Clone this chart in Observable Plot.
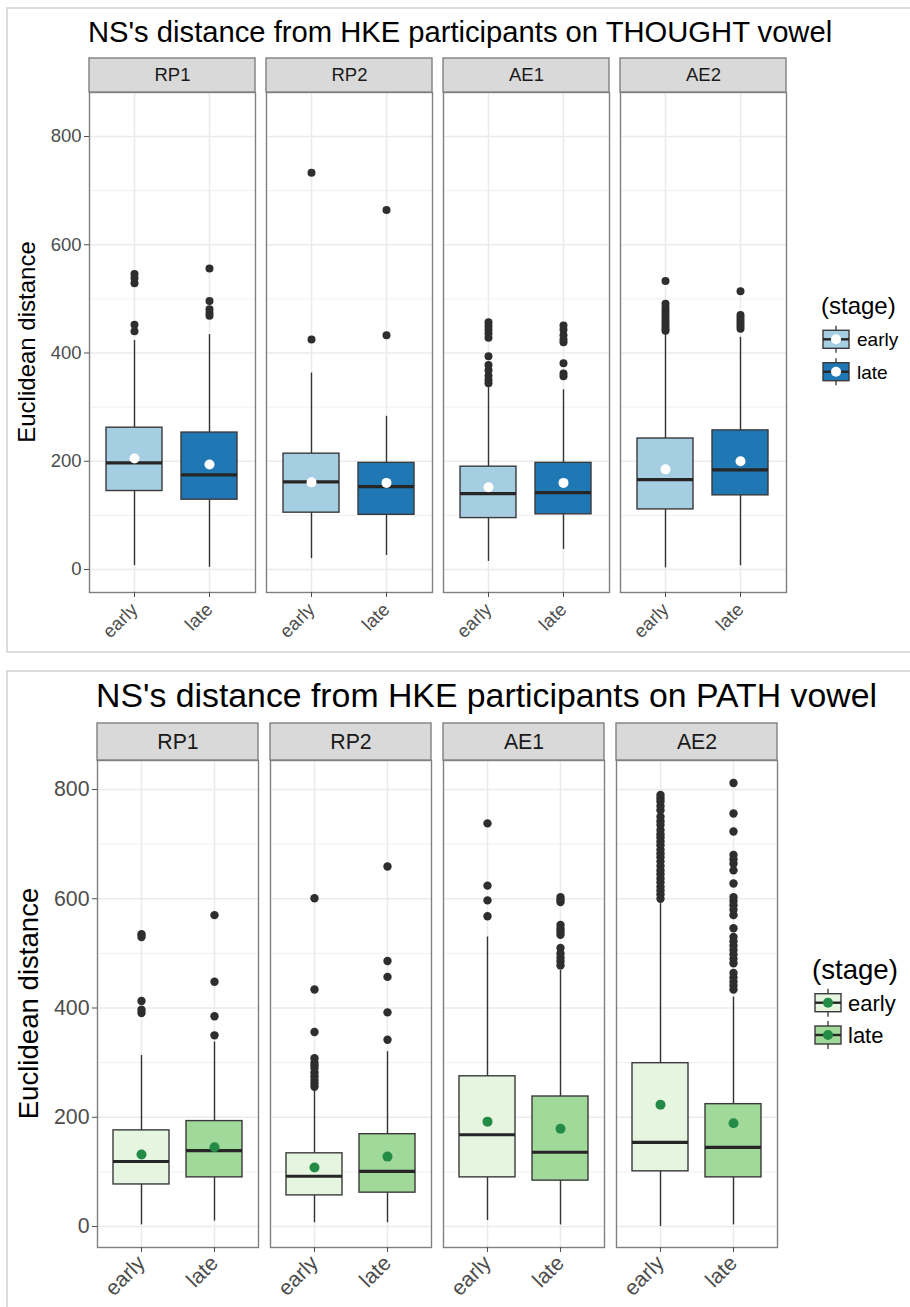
<!DOCTYPE html>
<html><head><meta charset="utf-8">
<script src="https://cdn.jsdelivr.net/npm/d3@7"></script>
<script src="https://cdn.jsdelivr.net/npm/@observablehq/plot@0.6"></script>
<style>
body{margin:0;background:#fff}
#root{position:relative;width:910px;height:1307px;overflow:hidden;background:#fff;font-family:"Liberation Sans",Arial,Helvetica,sans-serif}
#root > svg{position:absolute}
</style></head><body><div id="root"></div>
<script>
const speakers = ["RP1", "RP2", "AE1", "AE2"];
const stages = ["early", "late"];
const majorTicks = [0, 200, 400, 600, 800];
const minorTicks = [100, 300, 500, 700];
// order of groups: RP1 early, RP1 late, RP2 early, RP2 late, AE1 early, AE1 late, AE2 early, AE2 late
const thoughtLow    = [7, 4, 20, 26, 15, 37, 3, 7];
const thoughtQ1     = [145, 129, 105, 101, 95, 102, 111, 137];
const thoughtMedian = [197, 175, 162, 153, 140, 142, 166, 184];
const thoughtQ3     = [262, 253, 214, 197, 190, 197, 242, 257];
const thoughtHigh   = [423, 434, 363, 283, 336, 332, 436, 429];
const thoughtMean   = [205, 194, 161, 160, 152, 160, 185, 200];
const thoughtOutliers = [
  [440, 452, 529, 538, 546],
  [469, 474, 481, 496, 556],
  [425, 733],
  [433, 664],
  [344, 350, 358, 368, 378, 394, 428, 436, 443, 450, 457],
  [357, 362, 381, 420, 425, 433, 443, 451],
  [441, 445, 450, 455, 460, 466, 472, 478, 484, 491, 533],
  [445, 450, 455, 460, 465, 470, 514]
];
const pathLow    = [3, 10, 7, 7, 11, 3, 0, 3];
const pathQ1     = [77, 90, 57, 62, 90, 84, 101, 90];
const pathMedian = [119, 139, 92, 101, 168, 136, 154, 145];
const pathQ3     = [176, 193, 134, 169, 275, 238, 299, 224];
const pathHigh   = [313, 338, 250, 320, 530, 469, 591, 420];
const pathMean   = [132, 145, 108, 128, 192, 179, 223, 189];
const pathOutliers = [
  [391, 397, 413, 530, 535],
  [350, 385, 448, 570],
  [256, 262, 268, 275, 282, 290, 295, 300, 308, 356, 434, 601],
  [342, 392, 457, 486, 659],
  [568, 597, 624, 738],
  [478, 485, 492, 500, 510, 534, 540, 545, 552, 594, 598, 603],
  [600, 608, 615, 622, 630, 637, 645, 652, 660, 668, 676, 683, 690, 698, 705, 712, 718, 726, 735, 742, 750, 762, 770, 778, 784, 790],
  [434, 441, 448, 456, 464, 482, 490, 498, 506, 514, 522, 530, 546, 570, 580, 588, 596, 603, 628, 652, 664, 672, 680, 723, 756, 812]
];
const titles = ["NS's distance from HKE participants on THOUGHT vowel", "NS's distance from HKE participants on PATH vowel"];
const yTitle = "Euclidean distance";
const legendTitle = "(stage)";
const thoughtFills = ["#a6cee3", "#1f78b4"];
const pathFills = ["#e5f5e0", "#a1d99b"];

const FONT = '"Liberation Sans", Arial, Helvetica, sans-serif';

function chart(cfg) {
  const rows = [], outs = [];
  speakers.forEach((sp, i) => stages.forEach((st, j) => {
    const k = i * 2 + j;
    rows.push({speaker: sp, stage: st, low: cfg.low[k], q1: cfg.q1[k], median: cfg.median[k], q3: cfg.q3[k], high: cfg.high[k], mean: cfg.mean[k]});
    cfg.outliers[k].forEach(v => outs.push({speaker: sp, stage: st, value: v}));
  }));
  const fs = cfg.fontSize;
  const svg = Plot.plot({
    width: cfg.width, height: cfg.height,
    marginLeft: cfg.ml, marginRight: cfg.mr, marginTop: cfg.mt, marginBottom: cfg.mb,
    style: {background: "transparent", fontFamily: FONT, overflow: "visible"},
    fx: {domain: speakers, paddingInner: cfg.fxPad, paddingOuter: 0, axis: null, label: null},
    x: {domain: stages, paddingInner: cfg.xPadIn, paddingOuter: cfg.xPadOut, axis: null, label: null},
    y: {domain: cfg.yDomain, axis: null, label: null},
    color: {domain: stages, range: cfg.fills},
    marks: [
      Plot.gridY(minorTicks, {stroke: "#ececec", strokeOpacity: 1, strokeWidth: 0.8}),
      Plot.gridY(majorTicks, {stroke: "#ebebeb", strokeOpacity: 1, strokeWidth: 1.5}),
      Plot.gridX(stages, {stroke: "#ebebeb", strokeOpacity: 1, strokeWidth: 1.5}),
      Plot.ruleX(rows, {fx: "speaker", x: "stage", y1: "low", y2: "q1", stroke: "#333", strokeWidth: 1.4}),
      Plot.ruleX(rows, {fx: "speaker", x: "stage", y1: "q3", y2: "high", stroke: "#333", strokeWidth: 1.4}),
      Plot.dot(outs, {fx: "speaker", x: "stage", y: "value", r: cfg.outR, fill: "#2e2e2e", stroke: null}),
      Plot.barY(rows, {fx: "speaker", x: "stage", y1: "q1", y2: "q3", fill: "stage", stroke: "#3a3a3a", strokeWidth: 1.4}),
      Plot.tickY(rows, {fx: "speaker", x: "stage", y: "median", stroke: "#262626", strokeWidth: 3.2}),
      Plot.dot(rows, {fx: "speaker", x: "stage", y: "mean", r: cfg.meanR, fill: cfg.meanColor, stroke: null}),
      Plot.frame({stroke: "#808080", strokeWidth: 1.4}),
      Plot.rect(speakers, {fx: d => d, insetTop: -cfg.stripH, insetBottom: cfg.plotH, fill: "#d9d9d9", stroke: "#808080", strokeWidth: 1.4}),
      Plot.text(speakers, {fx: d => d, text: d => d, frameAnchor: "top", dy: -cfg.stripH / 2, lineAnchor: "middle", fontSize: fs, fill: "#1a1a1a"}),
      Plot.axisY(majorTicks, {tickSize: 5, tickPadding: 3, fontSize: fs, color: "#4d4d4d", label: null}),
      Plot.axisX({tickSize: 5, tickPadding: cfg.xTickPad, tickRotate: -45, fontSize: fs, color: "#4d4d4d", label: null})
    ]
  });
  svg.style.left = "0px";
  svg.style.top = cfg.top + "px";
  return svg;
}

const root = document.getElementById("root");

// overlay: borders
const overlay = d3.select(root).append("svg")
  .attr("width", 910).attr("height", 1307)
  .style("left", "0px").style("top", "0px")
  .style("font-family", FONT);

overlay.append("rect").attr("x", 7).attr("y", 8).attr("width", 920).attr("height", 644)
  .attr("fill", "none").attr("stroke", "#d4d4d4").attr("stroke-width", 1.6);
overlay.append("rect").attr("x", 7).attr("y", 671).attr("width", 920).attr("height", 660)
  .attr("fill", "none").attr("stroke", "#d4d4d4").attr("stroke-width", 1.6);

root.appendChild(chart({
  top: 0, width: 800, height: 660, ml: 88, mr: 12, mt: 92, mb: 68, stripH: 34, plotH: 500,
  fxPad: 0.06, xPadIn: 0.25, xPadOut: 0.2237, yDomain: [-42.5, 881.3], fontSize: 18.5, xTickPad: 9,
  outR: 4, meanR: 5, meanColor: "#ffffff", fills: thoughtFills,
  low: thoughtLow, q1: thoughtQ1, median: thoughtMedian, q3: thoughtQ3, high: thoughtHigh, mean: thoughtMean, outliers: thoughtOutliers
}));
root.appendChild(chart({
  top: 660, width: 800, height: 647, ml: 96, mr: 21, mt: 100, mb: 60, stripH: 37, plotH: 487,
  fxPad: 0.0672, xPadIn: 0.237, xPadOut: 0.211, yDomain: [-38.4, 853.1], fontSize: 21.3, xTickPad: 7,
  outR: 4.2, meanR: 5, meanColor: "#238b45", fills: pathFills,
  low: pathLow, q1: pathQ1, median: pathMedian, q3: pathQ3, high: pathHigh, mean: pathMean, outliers: pathOutliers
}));

const over2 = d3.select(root).append("svg")
  .attr("width", 910).attr("height", 1307)
  .style("left", "0px").style("top", "0px")
  .style("font-family", FONT);

const layouts = [
  {titleX: 88, titleY: 42, titleSize: 29.2, yx: 35, yy: 342, ySize: 24,
   legX: 821, legY: 314, legSize: 24, keyX: 823, keyW: 26, keyY: [339.3, 371.7], boxH: 18, whH: 27, labX: 857, labSize: 19,
   fills: thoughtFills, mean: "#ffffff"},
  {titleX: 96, titleY: 707, titleSize: 33.8, yx: 38, yy: 1003.5, ySize: 27.6,
   legX: 812, legY: 979, legSize: 27.6, keyX: 815, keyW: 26, keyY: [1002.7, 1035], boxH: 18, whH: 28, labX: 848, labSize: 22,
   fills: pathFills, mean: "#238b45"}
];
layouts.forEach((L, c) => {
  over2.append("text").attr("x", L.titleX).attr("y", L.titleY).attr("font-size", L.titleSize)
    .attr("fill", "#000").text(titles[c]);
  over2.append("text").attr("transform", `translate(${L.yx},${L.yy}) rotate(-90)`)
    .attr("text-anchor", "middle").attr("font-size", L.ySize).attr("fill", "#000").text(yTitle);
  over2.append("text").attr("x", L.legX).attr("y", L.legY).attr("font-size", L.legSize)
    .attr("fill", "#000").text(legendTitle);
  stages.forEach((s, i) => {
    const cy = L.keyY[i], cx = L.keyX + L.keyW / 2;
    const g = over2.append("g");
    g.append("line").attr("x1", cx).attr("x2", cx).attr("y1", cy - L.whH / 2).attr("y2", cy + L.whH / 2)
      .attr("stroke", "#333").attr("stroke-width", 1.3);
    g.append("rect").attr("x", L.keyX).attr("y", cy - L.boxH / 2).attr("width", L.keyW).attr("height", L.boxH)
      .attr("fill", L.fills[i]).attr("stroke", "#3a3a3a").attr("stroke-width", 1.4);
    g.append("line").attr("x1", L.keyX).attr("x2", L.keyX + L.keyW).attr("y1", cy).attr("y2", cy)
      .attr("stroke", "#262626").attr("stroke-width", 2.4);
    g.append("circle").attr("cx", cx).attr("cy", cy).attr("r", 5).attr("fill", L.mean);
    over2.append("text").attr("x", L.labX).attr("y", cy + L.labSize * 0.36).attr("font-size", L.labSize)
      .attr("fill", "#000").text(s);
  });
});
</script></body></html>
